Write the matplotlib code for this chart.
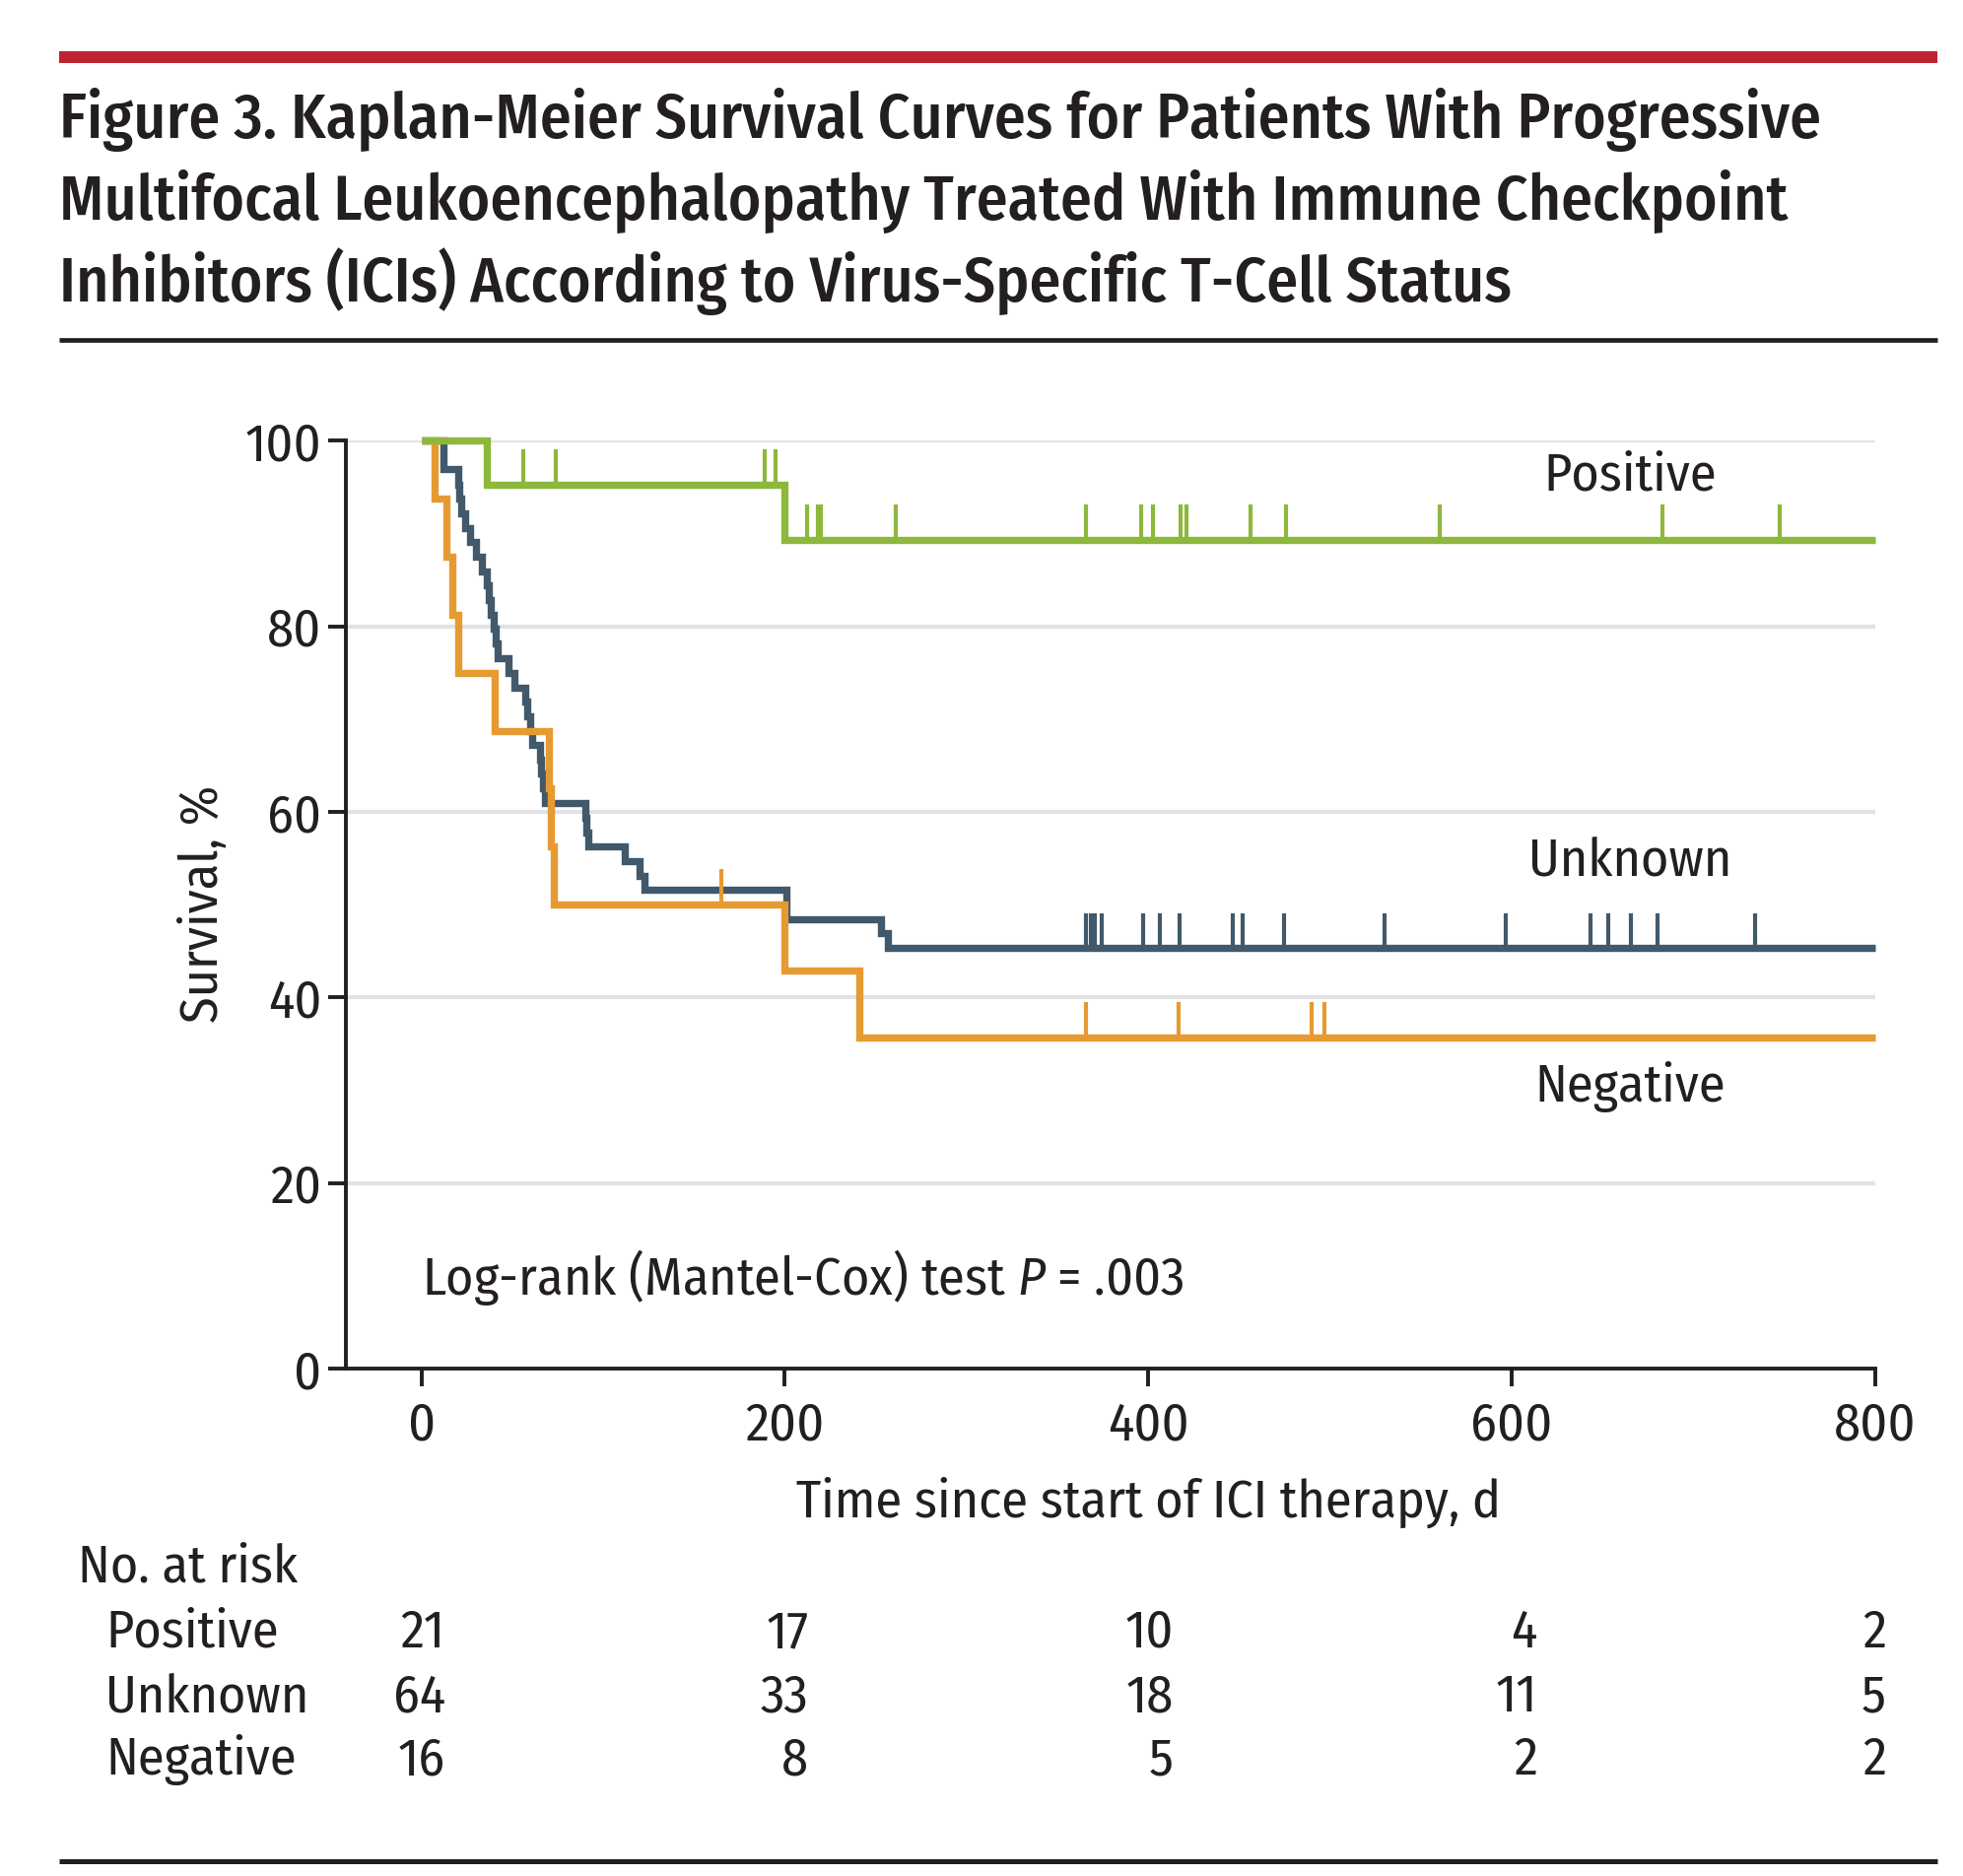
import numpy as np
import matplotlib
matplotlib.use("Agg")
import matplotlib.pyplot as plt
from matplotlib.lines import Line2D
import matplotlib.transforms as mtransforms

# ---- data ----
groups = ["Positive", "Unknown", "Negative"]

pos_t = [0, 36, 200]
pos_s = [100, 95.24, 89.29]
pos_cens = [56, 74, 189, 195, 212, 218, 220, 261, 365.7, 396.3, 402.6, 417.6,
            421.3, 456.3, 476, 560.3, 682.8, 747.8]

unk_t = [0, 12, 20, 21, 22, 24, 27, 30, 33, 36, 37, 38, 40, 41, 42, 48, 51, 57,
         58, 60, 61, 65, 66, 67, 68, 90, 91, 92, 112, 120, 123, 201, 253, 257]
unk_s = [100, 96.9, 95.3, 93.75, 92.2, 90.6, 89.1, 87.5, 85.9, 84.4, 82.8, 81.25,
         79.7, 78.1, 76.6, 75.0, 73.4, 71.9, 70.3, 68.75, 67.2, 65.6, 64.1, 62.5,
         60.9, 59.4, 57.8, 56.25, 54.7, 53.1, 51.6, 48.4, 46.9, 45.3]
unk_cens = [365.7, 368.2, 370.4, 374.5, 397, 406.3, 417.3, 446.3, 452.2, 475,
            530.3, 596.9, 643.7, 653.1, 665.6, 680.3, 734.3]

neg_t = [0, 7, 13.5, 17, 20, 40.5, 70, 71.5, 73, 200, 241]
neg_s = [100, 93.75, 87.5, 81.25, 75, 68.75, 62.5, 56.25, 50, 42.86, 35.71]
neg_cens = [165, 365.7, 416.6, 490, 497]

risk_times = [0, 200, 400, 600, 800]
risk_pos = [21, 17, 10, 4, 2]
risk_unk = [64, 33, 18, 11, 5]
risk_neg = [16, 8, 5, 2, 2]

title_lines = ["Figure 3. Kaplan-Meier Survival Curves for Patients With Progressive",
               "Multifocal Leukoencephalopathy Treated With Immune Checkpoint",
               "Inhibitors (ICIs) According to Virus-Specific T-Cell Status"]
xlabel = "Time since start of ICI therapy, d"

# ---- style ----
GREEN = "#8db83c"
SLATE = "#41596a"
ORANGE = "#e69a32"
RED = "#be2332"
INK = "#231f20"
GRID = "#e2e2e4"
T_MAX = 800
FONT = ["Fira Sans Condensed", "DejaVu Sans"]

plt.rcParams["font.family"] = FONT
plt.rcParams["mathtext.fontset"] = "custom"
plt.rcParams["mathtext.rm"] = "Fira Sans Condensed"
plt.rcParams["mathtext.it"] = "Fira Sans Condensed:italic"

fig = plt.figure(figsize=(19.92, 19.04), dpi=100)
W, H = 1560.0, 1490.0  # reference layout units
renderer = fig.canvas.get_renderer()


def fx(x):
    return x / W


def fy(y):
    return 1 - y / H


def fit_size(text, target_px, **kw):
    t = fig.text(0, 0, text, fontsize=40, **kw)
    w = t.get_window_extent(renderer).width
    t.remove()
    return 40 * target_px / w


FS = fit_size(xlabel, 715)

ax = fig.add_axes([fx(275), fy(1087), fx(1490) - fx(275), fy(350) - fy(1087)])
ax.set_xlim(-41.5, T_MAX)
ax.set_ylim(0, 100)

for g in [20, 40, 60, 80, 100]:
    ax.axhline(g, color=GRID, lw=3, zorder=0)


def level_at(t, times, surv):
    i = np.searchsorted(times, t, side="right") - 1
    return surv[i]


def draw_curve(times, surv, cens, color, z):
    tt = np.append(times, T_MAX)
    ss = np.append(surv, surv[-1])
    ax.step(tt, ss, where="post", color=color, lw=5.3, zorder=z, clip_on=False,
            solid_joinstyle="miter", solid_capstyle="butt")
    lv = [level_at(c, times, surv) for c in cens]
    ax.vlines(cens, lv, np.array(lv) + 3.8, color=color, lw=3, zorder=z)


draw_curve(unk_t, unk_s, unk_cens, SLATE, 3)
draw_curve(neg_t, neg_s, neg_cens, ORANGE, 4)
draw_curve(pos_t, pos_s, pos_cens, GREEN, 5)

for s in ["top", "right"]:
    ax.spines[s].set_visible(False)
for s in ["left", "bottom"]:
    ax.spines[s].set_linewidth(2.8)
    ax.spines[s].set_color(INK)

ax.set_xticks(risk_times)
ax.set_yticks([0, 20, 40, 60, 80, 100])
ax.tick_params(axis="both", length=13, width=2.8, color=INK, labelsize=FS,
               labelcolor=INK)
ax.tick_params(axis="x", pad=10)
ax.tick_params(axis="y", pad=5)

ax.text(665, 96.2, "Positive", fontsize=FS, ha="center", va="center", color=INK)
ax.text(665, 54.7, "Unknown", fontsize=FS, ha="center", va="center", color=INK)
ax.text(665, 30.4, "Negative", fontsize=FS, ha="center", va="center", color=INK)
ax.text(0, 9.8, r"Log-rank (Mantel-Cox) test $P$ = .003", fontsize=FS,
        ha="left", va="center", color=INK)

fig.text(fx(912.5), fy(1193), xlabel, fontsize=FS, ha="center", va="center", color=INK)
fig.text(fx(162), fy(718), "Survival, %", fontsize=FS, rotation=90,
         ha="center", va="center", color=INK)

# number at risk table
fig.text(fx(62), fy(1245), "No. at risk", fontsize=FS, ha="left", va="center", color=INK)
blend = mtransforms.blended_transform_factory(ax.transData, fig.transFigure)
num_x = [13, 213, 414, 614, 806]
for name, counts, yy in zip(groups, [risk_pos, risk_unk, risk_neg], [1297, 1348, 1398]):
    fig.text(fx(84), fy(yy), name, fontsize=FS, ha="left", va="center", color=INK)
    for xx, n in zip(num_x, counts):
        ax.text(xx, fy(yy), str(n), transform=blend, fontsize=FS,
                ha="right", va="center", color=INK, clip_on=False)

# rules above / below
fig.add_artist(Line2D([fx(47), fx(1540)], [fy(45), fy(45)], color=RED, lw=8.6,
                      solid_capstyle="butt"))
fig.add_artist(Line2D([fx(47), fx(1540)], [fy(270), fy(270)], color=INK, lw=3.4,
                      solid_capstyle="butt"))
fig.add_artist(Line2D([fx(47), fx(1540)], [fy(1478), fy(1478)], color=INK, lw=3.6,
                      solid_capstyle="butt"))

# title
TS = fit_size(title_lines[0], 1788, weight=500)
for line, b in zip(title_lines, [109.6, 174.4, 239.6]):
    fig.text(fx(47), fy(b), line, fontsize=TS, weight=500,
             ha="left", va="baseline", color=INK)

fig.savefig("out.png", dpi=100)
